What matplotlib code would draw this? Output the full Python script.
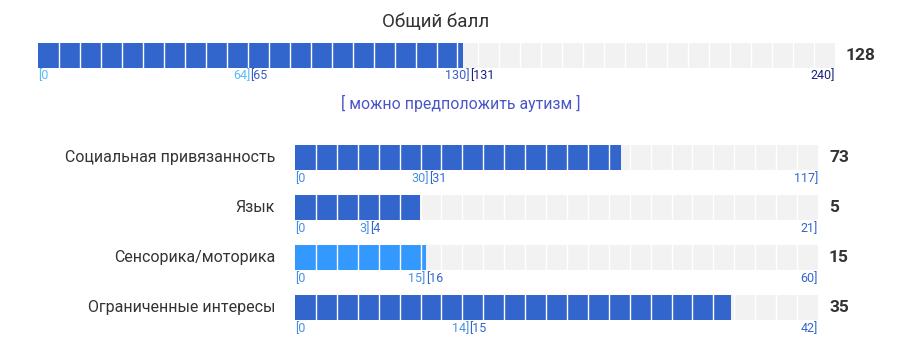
import matplotlib.pyplot as plt

plt.rcParams['font.family'] = ['Roboto', 'DejaVu Sans']

# общий балл
total_title = "Общий балл"
total_score = 128
total_max = 240
total_cuts = [64, 130]
total_status = "[ можно предположить аутизм ]"

# подшкалы
sub_names = ["Социальная привязанность", "Язык", "Сенсорика/моторика", "Ограниченные интересы"]
sub_scores = [73, 5, 15, 35]
sub_max = [117, 21, 60, 42]
sub_cuts = [30, 3, 15, 14]

W, H = 917, 354
EMPTY = '#f2f2f2'
DARK = '#3366cc'
LIGHT = '#3399ff'
TXT = '#333333'

fig = plt.figure(figsize=(W / 100, H / 100), dpi=100)


def px_axes(x, y, w, h):
    return fig.add_axes([x / W, 1 - (y + h) / H, w / W, h / H])


def ftext(x, y, s, **kw):
    fig.text(x / W, 1 - y / H, s, **kw)


def seg_bar(ax, value, vmax, ncells, color):
    ax.barh(0, vmax, height=1, color=EMPTY, align='edge')
    ax.barh(0, value, height=1, color=color, align='edge')
    for k in range(1, ncells):
        ax.axvline(vmax * k / ncells, color='white', lw=1.0)
    ax.set_xlim(0, vmax)
    ax.set_ylim(0, 1)
    ax.axis('off')


def range_labels(ax, edges, colors, y):
    # edges: [0, c1, c2, ..., max]
    tr = ax.get_xaxis_transform()
    for i in range(len(edges) - 1):
        lo = edges[i] if i == 0 else edges[i] + 1
        hi = edges[i + 1]
        ax.text(edges[i], y, f"[{lo}", color=colors[i], fontsize=9,
                ha='left', va='center', transform=tr, clip_on=False)
        ax.text(hi, y, f"{hi}]", color=colors[i], fontsize=9,
                ha='right', va='center', transform=tr, clip_on=False)


# верхний бар
ftext(436, 22, total_title, fontsize=13.5, color=TXT, ha='center', va='center')
ax = px_axes(38, 43, 797, 25)
seg_bar(ax, total_score, total_max, 38, DARK)
range_labels(ax, [0] + total_cuts + [total_max], ['#55bdf5', '#3b5cc4', '#1a237e'], -0.3)
ftext(846, 56, str(total_score), fontsize=12.5, fontweight='bold', color=TXT, va='center')
ftext(461, 103, total_status, fontsize=11.4, color='#4a56c8', ha='center', va='center')

# подшкалы
for i, name in enumerate(sub_names):
    y0 = 145 + i * 50
    col = LIGHT if sub_scores[i] <= sub_cuts[i] else DARK
    ax = px_axes(295, y0, 523, 25)
    seg_bar(ax, sub_scores[i], sub_max[i], 25, col)
    range_labels(ax, [0, sub_cuts[i], sub_max[i]], ['#4a90e2', '#3366cc'], -0.34)
    ftext(275, y0 + 12.5, name, fontsize=11.5, color=TXT, ha='right', va='center')
    ftext(829, y0 + 12.5, str(sub_scores[i]), fontsize=12.5, fontweight='bold', color=TXT, va='center')

fig.savefig('out.png', dpi=100)
